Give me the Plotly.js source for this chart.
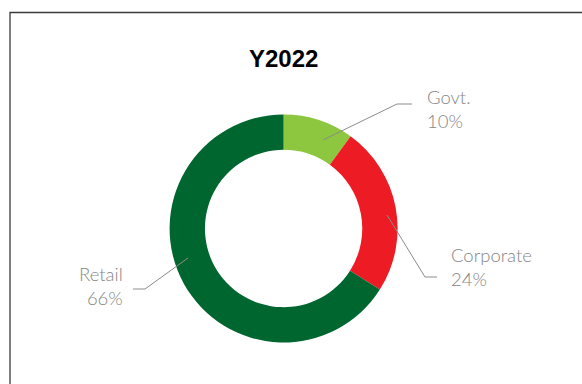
<!DOCTYPE html>
<html>
<head>
<meta charset="utf-8">
<script src="https://cdn.plot.ly/plotly-3.0.1.min.js"></script>
<style>
  html, body { margin: 0; padding: 0; background: #ffffff; }
  #chart { width: 582px; height: 384px; }
</style>
</head>
<body>
<div id="chart"></div>
<script>
// Segment shares for 2022
const categories = ["Govt.", "Corporate", "Retail"];
const shares = [10, 24, 66];
const sliceColors = ["#8dc63f", "#ed1c24", "#006630"];
const chartTitle = "Y2022";

const W = 582, H = 384;
// pixel -> paper helpers
const px = x => x / W;
const py = y => 1 - y / H;

// donut centre and outer radius in pixels
const cx = 283.6, cy = 228.5, R = 114;

// label placement: text anchor, elbow and anchor inside the ring (pixels)
const labelLayout = [
  { tx: 426, ty: 109, xanchor: "left",  align: "left",  pts: [[323, 140], [397, 104], [412, 104]] },
  { tx: 450, ty: 267, xanchor: "left",  align: "left",  pts: [[387, 215], [425, 277], [437, 277]] },
  { tx: 124, ty: 286, xanchor: "right", align: "right", pts: [[188, 258], [145, 289], [133, 289]] }
];

const trace = {
  type: "pie",
  labels: categories,
  values: shares,
  marker: { colors: sliceColors, line: { width: 0 } },
  hole: 0.69,
  sort: false,
  direction: "clockwise",
  rotation: 0,
  textinfo: "none",
  hoverinfo: "label+percent",
  showlegend: false,
  domain: { x: [px(cx - R), px(cx + R)], y: [py(cy + R), py(cy - R)] }
};

const total = shares.reduce((a, b) => a + b, 0);

const annotations = categories.map((c, i) => ({
  xref: "paper", yref: "paper",
  x: px(labelLayout[i].tx), y: py(labelLayout[i].ty),
  xanchor: labelLayout[i].xanchor, yanchor: "middle",
  align: labelLayout[i].align,
  text: c + "<br>" + Math.round(shares[i] / total * 100) + "%",
  showarrow: false,
  borderpad: 0,
  font: { family: "Lato, 'Open Sans', sans-serif", size: 18.5, weight: 300, color: "#868686" }
}));

annotations.push({
  xref: "paper", yref: "paper",
  x: px(cx - 0.5), y: py(58.5),
  xanchor: "center", yanchor: "middle",
  text: "<b>" + chartTitle + "</b>",
  showarrow: false,
  font: { family: "'Liberation Sans', Arial, sans-serif", size: 24, color: "#000000" }
});

const shapes = labelLayout.map(l => ({
  type: "path",
  xref: "paper", yref: "paper",
  path: "M " + l.pts.map(p => px(p[0]) + "," + py(p[1])).join(" L "),
  line: { color: "#8c8c8c", width: 1 }
}));

// outer frame (open to the right and bottom edges)
shapes.push({
  type: "path",
  xref: "paper", yref: "paper",
  path: "M " + px(10) + "," + py(390) + " L " + px(10) + "," + py(12.5) + " L " + px(590) + "," + py(12.5),
  line: { color: "#3a3a3a", width: 1.3 }
});

const layout = {
  width: W, height: H,
  margin: { l: 0, r: 0, t: 0, b: 0 },
  paper_bgcolor: "#ffffff",
  plot_bgcolor: "#ffffff",
  showlegend: false,
  annotations: annotations,
  shapes: shapes
};

Plotly.newPlot("chart", [trace], layout, { displayModeBar: false, staticPlot: true });
</script>
</body>
</html>
